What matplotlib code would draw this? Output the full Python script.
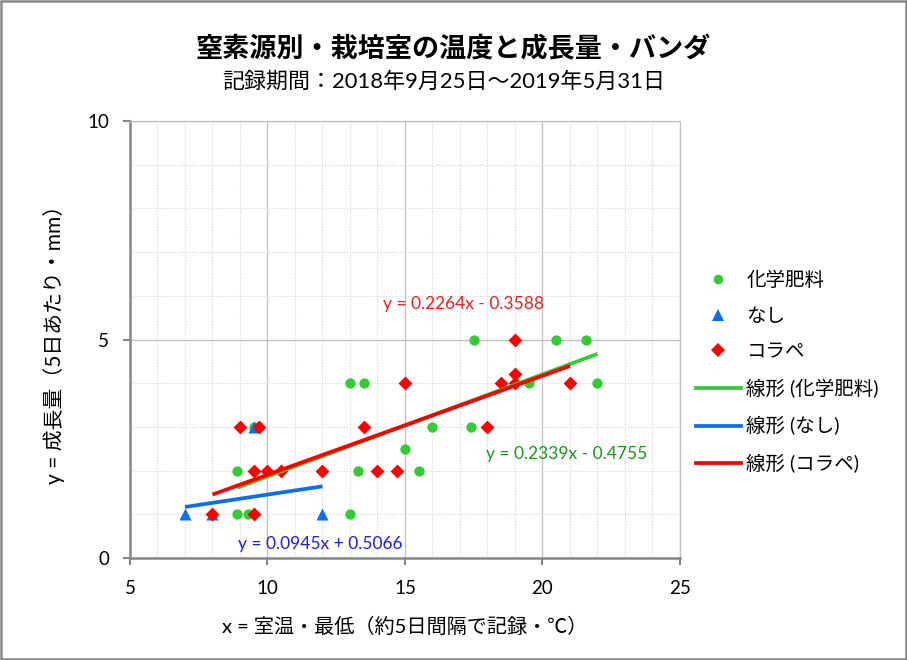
import matplotlib
matplotlib.use('Agg')
import numpy as np
import matplotlib.pyplot as plt
from matplotlib.lines import Line2D
from matplotlib.patches import Rectangle

plt.rcParams['font.family'] = ['Lato', 'Noto Sans CJK JP', 'DejaVu Sans']

# データ
chem_x = [8.9, 8.9, 9.3, 9.5, 13.0, 13.5, 13.0, 13.3, 15.0, 15.5, 16.0, 17.4, 17.5, 19.5, 20.5, 21.6, 22.0]
chem_y = [2, 1, 1, 3, 4, 4, 1, 2, 2.5, 2, 3, 3, 5, 4, 5, 5, 4]
none_x = [7, 8, 9.5, 12]
none_y = [1, 1, 3, 1]
kora_x = [8, 9, 9.7, 9.5, 10, 10.5, 12, 9.5, 13.5, 14, 14.7, 15, 18, 18.5, 19, 19, 19, 21]
kora_y = [1, 3, 3, 2, 2, 2, 2, 1, 3, 2, 2, 4, 3, 4, 4, 4.2, 5, 4]

names = ['化学肥料', 'なし', 'コラペ']
slopes = [0.2339, 0.0945, 0.2264]
intercepts = [-0.4755, 0.5066, -0.3588]
eq_texts = ['y = 0.2339x - 0.4755', 'y = 0.0945x + 0.5066', 'y = 0.2264x - 0.3588']

xs = [chem_x, none_x, kora_x]
ys = [chem_y, none_y, kora_y]
colors = ['#33CC33', '#0A6EF0', '#FF0000']
markers = ['o', '^', 'D']
msizes = [55, 75, 50]
eq_colors = ['#1A961A', '#1A1AFF', '#FF1A1A']
eq_pos = [(17.95, 2.38), (8.93, 0.32), (14.2, 5.81)]

fig = plt.figure(figsize=(9.07, 6.60), dpi=100)
ax = fig.add_axes([0.1433, 0.1545, 0.6064, 0.6622])

for i in range(3):
    ax.scatter(xs[i], ys[i], s=msizes[i], marker=markers[i], color=colors[i],
               linewidths=0, zorder=3)

for i in range(3):
    lx = np.array([min(xs[i]), max(xs[i])])
    ax.plot(lx, slopes[i] * lx + intercepts[i], color=colors[i], lw=2.7,
            solid_capstyle='butt', zorder=4)
    ax.text(eq_pos[i][0], eq_pos[i][1], eq_texts[i], color=eq_colors[i],
            fontsize=12.5, va='center', ha='left', zorder=5)

ax.set_xlim(5, 25)
ax.set_ylim(0, 10)
ax.set_xticks([5, 10, 15, 20, 25])
ax.set_yticks([0, 5, 10])
ax.set_xticks(np.arange(5, 26, 1), minor=True)
ax.set_yticks(np.arange(0, 11, 1), minor=True)
ax.grid(which='major', color='#BFBFBF', lw=0.9, ls='-')
ax.grid(which='minor', color='#D4D4D4', lw=0.8, ls=(0, (1, 1.5)))
ax.set_axisbelow(True)
ax.tick_params(which='minor', length=0)
ax.tick_params(which='major', direction='out', length=5, width=1.5, color='#868686',
               labelsize=13.5, pad=6)
ax.tick_params(axis='x', pad=11)
ax.tick_params(axis='y', pad=10)
for s in ['left', 'bottom']:
    ax.spines[s].set_color('#868686')
    ax.spines[s].set_linewidth(1.8)
for s in ['top', 'right']:
    ax.spines[s].set_color('#BFBFBF')
    ax.spines[s].set_linewidth(0.9)

ax.set_xlabel('x = 室温・最低（約5日間隔で記録・℃）', fontsize=14.5, labelpad=14)
ax.set_ylabel('y = 成長量（5日あたり・mm）', fontsize=15, labelpad=16)

fig.text(0.5, 0.927, '窒素源別・栽培室の温度と成長量・バンダ', ha='center', va='center',
         fontsize=19.5, fontweight='bold')
fig.text(0.489, 0.876, '記録期間：2018年9月25日～2019年5月31日', ha='center', va='center',
         fontsize=15.8)

handles = []
for i in range(3):
    handles.append(Line2D([], [], ls='none', marker=markers[i], color=colors[i],
                          markersize=[7, 8.5, 7][i], markeredgewidth=0))
for i in range(3):
    handles.append(Line2D([], [], color=colors[i], lw=2.7))
labels = names + ['線形 (' + n + ')' for n in names]
fig.legend(handles, labels, loc='upper left', bbox_to_anchor=(0.748, 0.616),
           frameon=False, fontsize=14, handlelength=2.3, handletextpad=0.3,
           labelspacing=0.95)

fig.patches.append(Rectangle((0.0015, 0.002), 0.997, 0.996, transform=fig.transFigure,
                             fill=False, edgecolor='#888888', lw=1.8))

fig.savefig('out.png', dpi=100)
